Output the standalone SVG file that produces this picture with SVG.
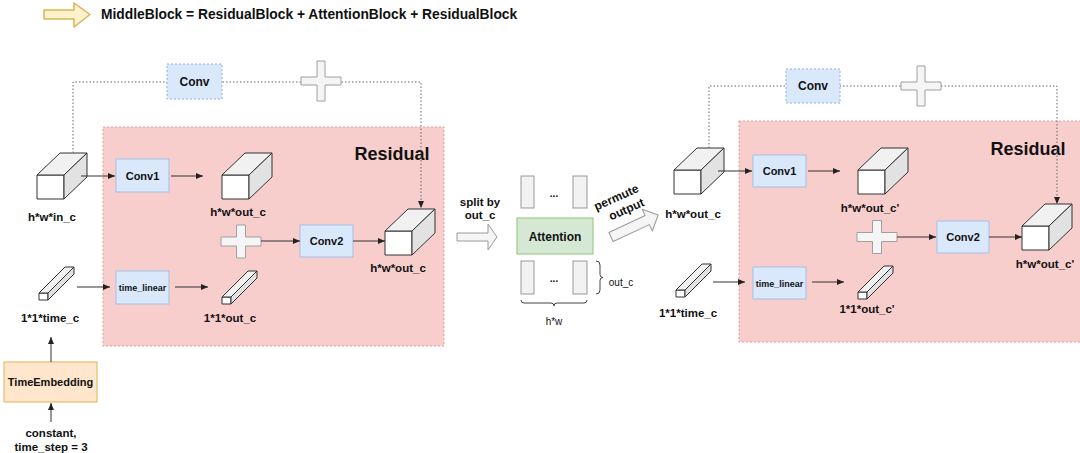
<svg xmlns="http://www.w3.org/2000/svg" width="1080" height="453" viewBox="0 0 1080 453">
<style>
text{font-family:"Liberation Sans",Arial,sans-serif;fill:#111;text-anchor:middle}
.b{font-weight:bold;font-size:11.5px}
.r{font-size:10px}
.title{font-weight:bold;font-size:13.8px;text-anchor:start}
.res{font-weight:bold;font-size:18px}
.box{fill:#dae8fc;stroke:#a3bfe6;stroke-width:1}
.boxd{fill:#dae8fc;stroke:#8fb0e0;stroke-width:1;stroke-dasharray:2,2}
.resblk{fill:#f8cecc;stroke:#e79b98;stroke-width:1;stroke-dasharray:2,2}
.cf{fill:#fff;stroke:#333;stroke-width:1;stroke-linejoin:round}
.ct{fill:#f1f1f1;stroke:#333;stroke-width:1;stroke-linejoin:round}
.cs{fill:#e2e2e2;stroke:#333;stroke-width:1;stroke-linejoin:round}
.plus{fill:#f5f5f5;stroke:#a0a0a0;stroke-width:1;stroke-linejoin:round}
.bar{fill:#f2f2f2;stroke:#999;stroke-width:1}
.blk{fill:#f5f5f5;stroke:#9a9a9a;stroke-width:1;stroke-linejoin:round}
.ar{fill:none;stroke:#333;stroke-width:1;marker-end:url(#ah)}
.dot{fill:none;stroke:#666;stroke-width:1;stroke-dasharray:1.5,2;marker-end:url(#ah)}
.brace{fill:none;stroke:#444;stroke-width:1}
</style>
<defs>
<marker id="ah" markerUnits="userSpaceOnUse" markerWidth="7" markerHeight="6" refX="7" refY="3" orient="auto">
<path d="M0,0L7,3L0,6z" fill="#222"/>
</marker>
<g id="cube">
<path class="cf" d="M0,0h27v24h-27z"/>
<path class="ct" d="M0,0l23,-22h27l-23,22z"/>
<path class="cs" d="M27,0l23,-22v24l-23,22z"/>
</g>
<g id="rod">
<path class="cf" d="M0,0h9v7h-9z"/>
<path class="ct" d="M0,0l26,-26h9l-26,26z"/>
<path class="cs" d="M9,0l26,-26v7l-26,26z"/>
</g>
<path id="plusS" class="plus" d="M-4.5,-16.5H4.5V-4.5H20V4.5H4.5V16.5H-4.5V4.5H-20V-4.5H-4.5Z"/>
<path id="plusT" class="plus" d="M-4,-20H4V-4H20V4H4V20H-4V4H-20V-4H-4Z"/>
</defs>

<g id="header">
<path d="M44,10H74V3L90,14.5L74,27V19H44Z" fill="#fff2cc" stroke="#d6b656" stroke-width="1.5" stroke-linejoin="round"/>
<text class="title" x="101" y="19">MiddleBlock = ResidualBlock + AttentionBlock + ResidualBlock</text>
</g>

<g id="residual-left">
<rect class="resblk" x="103" y="127" width="341" height="219"/>
<text class="res" x="392" y="159.5">Residual</text>
</g>
<g id="residual-right">
<rect class="resblk" x="739" y="121" width="360" height="221"/>
<text class="res" x="1028" y="155">Residual</text>
</g>

<!-- left block nodes -->
<g id="in-cube"><use href="#cube" x="37" y="175"/><text class="b" x="52" y="221">h*w*in_c</text></g>
<g id="conv1-l"><rect class="box" x="116" y="159" width="53" height="33"/><text class="b" x="142.5" y="179.5" style="font-size:11px">Conv1</text></g>
<g id="out-cube-l1"><use href="#cube" x="222" y="175"/><text class="b" x="238" y="216">h*w*out_c</text></g>
<g id="plus-l"><use href="#plusS" x="241" y="241.5"/></g>
<g id="conv2-l"><rect class="box" x="300" y="225" width="53" height="32"/><text class="b" x="326.5" y="245" style="font-size:11px">Conv2</text></g>
<g id="out-cube-l2"><use href="#cube" x="385" y="231"/><text class="b" x="398" y="272">h*w*out_c</text></g>
<g id="time-rod-l"><use href="#rod" x="39" y="293"/><text class="b" x="50" y="322">1*1*time_c</text></g>
<g id="time-linear-l"><rect class="box" x="116" y="271" width="53" height="33"/><text class="b" x="142.5" y="290.5" style="font-size:9px">time_linear</text></g>
<g id="out-rod-l"><use href="#rod" x="222" y="297"/><text class="b" x="230" y="322">1*1*out_c</text></g>
<g id="time-embedding"><rect x="4" y="362" width="93" height="40" fill="#ffe6cc" stroke="#e3b256" stroke-width="1"/><text class="b" x="50.5" y="386" style="font-size:11px">TimeEmbedding</text></g>
<g id="constant"><text class="b" x="51" y="437">constant,</text><text class="b" x="51" y="451">time_step = 3</text></g>

<!-- attention -->
<g id="split"><path class="blk" d="M457,233H488V224L497,237L488,250V241H457Z"/><text class="b" x="480" y="206">split by</text><text class="b" x="480" y="219">out_c</text></g>
<g id="attention">
<rect class="bar" x="521" y="176" width="13" height="32"/>
<rect class="bar" x="573" y="176" width="14" height="32"/>
<text class="b" x="554" y="197" style="font-size:10px">...</text>
<rect x="517" y="218" width="76" height="36" fill="#d5e8d4" stroke="#93c07f" stroke-width="1"/>
<text class="b" x="555" y="240.5" style="font-size:12px">Attention</text>
<rect class="bar" x="521" y="261" width="13" height="33"/>
<rect class="bar" x="573" y="261" width="14" height="33"/>
<text class="b" x="554" y="282" style="font-size:10px">...</text>
<path class="brace" d="M596,261Q600,261 600,265V274.5Q600,277.5 603,277.5Q600,277.5 600,280.5V290Q600,294 596,294"/>
<text class="r" x="621" y="285.5">out_c</text>
<path class="brace" d="M521,300Q521,303 524,303H551Q554,303 554,306Q554,303 557,303H584Q587,303 587,300"/>
<text class="r" x="554" y="324.5">h*w</text>
</g>
<g id="permute">
<path class="blk" transform="translate(611,237) rotate(-25)" d="M0,-5H40V-12L52,0L40,12V5H0Z"/>
<text class="b" transform="translate(618,201) rotate(-24)" style="font-size:12px">permute</text>
<text class="b" transform="translate(628,213) rotate(-24)" style="font-size:12px">output</text>
</g>

<!-- right block nodes -->
<g id="in-cube-r"><use href="#cube" x="674" y="170"/><text class="b" x="693" y="218">h*w*out_c</text></g>
<g id="conv1-r"><rect class="box" x="753" y="155" width="53" height="32"/><text class="b" x="779.5" y="175" style="font-size:11px">Conv1</text></g>
<g id="out-cube-r1"><use href="#cube" x="858" y="170"/><text class="b" x="870" y="212">h*w*out_c'</text></g>
<g id="plus-r"><use href="#plusS" x="877" y="237"/></g>
<g id="conv2-r"><rect class="box" x="937" y="221" width="52" height="32"/><text class="b" x="963" y="241" style="font-size:11px">Conv2</text></g>
<g id="out-cube-r2"><use href="#cube" x="1022" y="226"/><text class="b" x="1045" y="268">h*w*out_c'</text></g>
<g id="time-rod-r"><use href="#rod" x="676" y="290"/><text class="b" x="688" y="317">1*1*time_c</text></g>
<g id="time-linear-r"><rect class="box" x="753" y="267" width="53" height="32"/><text class="b" x="779.5" y="286.5" style="font-size:9px">time_linear</text></g>
<g id="out-rod-r"><use href="#rod" x="858" y="292"/><text class="b" x="867" y="313">1*1*out_c'</text></g>

<g id="connectors">
<path class="dot" d="M73,153V82H421V208"/>
<path class="dot" d="M709,148V86H1057V204"/>
<path class="ar" d="M81,176H115"/>
<path class="ar" d="M171,176H203"/>
<path class="ar" d="M261,241H300"/>
<path class="ar" d="M353,241H385"/>
<path class="ar" d="M77,287H110"/>
<path class="ar" d="M175,287H208"/>
<path class="ar" d="M51,362V337"/>
<path class="ar" d="M51,422V403"/>
<path class="ar" d="M718,171H752"/>
<path class="ar" d="M808,171H840"/>
<path class="ar" d="M897,237H936"/>
<path class="ar" d="M989,237H1022"/>
<path class="ar" d="M713,282H745"/>
<path class="ar" d="M812,282H844"/>
</g>

<g id="conv-skip-l"><rect class="boxd" x="167" y="64" width="55" height="35"/><text class="b" x="194.5" y="85.5" style="font-size:12px">Conv</text></g>
<g id="plus-skip-l"><use href="#plusT" x="321" y="81"/></g>
<g id="conv-skip-r"><rect class="boxd" x="786" y="69" width="54" height="34"/><text class="b" x="813" y="90" style="font-size:12px">Conv</text></g>
<g id="plus-skip-r"><use href="#plusT" x="921" y="86"/></g>
</svg>
